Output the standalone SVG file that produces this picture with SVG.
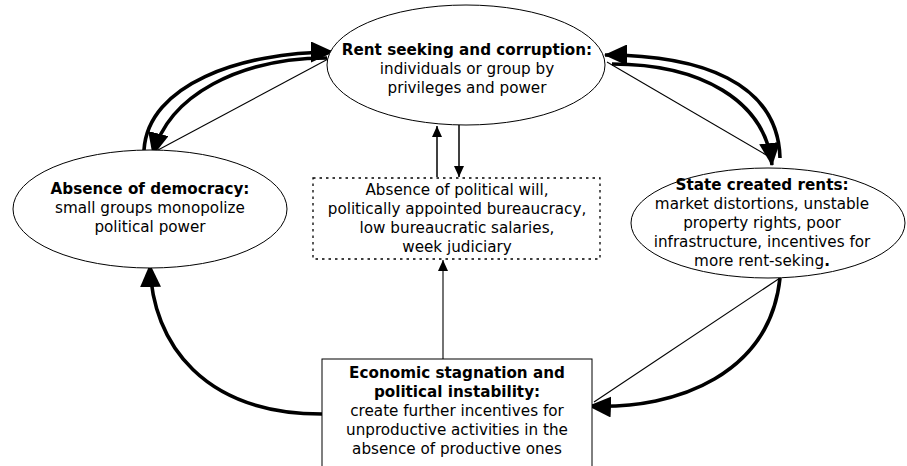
<svg xmlns="http://www.w3.org/2000/svg" width="907" height="466" viewBox="0 0 907 466">
<defs>
<style>
text{font-family:"DejaVu Sans","Verdana",sans-serif;font-size:15.2px;fill:#000;text-anchor:middle}
.b{font-weight:bold}
.shape{fill:#fff;stroke:#000;stroke-width:1}
.dot{fill:#fff;stroke:#000;stroke-width:1.3;stroke-dasharray:2.5 4}
.thick{fill:none;stroke:#000;stroke-width:3.6}
.thin{fill:none;stroke:#000;stroke-width:1.1}
.med{fill:none;stroke:#000;stroke-width:1.5}
</style>
<marker id="big" markerUnits="userSpaceOnUse" markerWidth="23" markerHeight="21" refX="22" refY="10.5" orient="auto">
<path d="M0,0 L23,10.5 L0,21 Z" fill="#000"/>
</marker>
<marker id="small" markerUnits="userSpaceOnUse" markerWidth="11" markerHeight="10" refX="11" refY="5" orient="auto">
<path d="M0,0 L11,5 L0,10 Z" fill="#000"/>
</marker>
</defs>

<g id="connectors">
<path class="thick" d="M144,150 C148,85 240,52 333,52" marker-end="url(#big)"/>
<path class="thick" d="M327,58 C240,58 168,95 153,155" marker-end="url(#big)"/>
<path class="thin" d="M330,58 L158,150"/>
<path class="thick" d="M780,158 C778,82 700,55 605,55" marker-end="url(#big)"/>
<path class="thick" d="M612,64 C700,64 765,100 772,165" marker-end="url(#big)"/>
<path class="thin" d="M607,62 L768,156"/>
<path class="thick" d="M780,278 C770,372 680,410 589,406" marker-end="url(#big)"/>
<path class="thin" d="M780,278 L594,402"/>
<path class="thick" d="M322,414 C205,414 152,345 150,265" marker-end="url(#big)"/>
<path class="thin" d="M443,359 L443,260" marker-end="url(#small)"/>
<path class="med" d="M437,177 L437,126" marker-end="url(#small)"/>
<path class="med" d="M459,125 L459,177" marker-end="url(#small)"/>
</g>

<g id="rent-seeking">
<ellipse class="shape" cx="466" cy="65" rx="139" ry="60"/>
<text class="b" x="467" y="55">Rent seeking and corruption:</text>
<text x="467" y="74">individuals or group by</text>
<text x="467" y="93">privileges and power</text>
</g>

<g id="absence-democracy">
<ellipse class="shape" cx="150" cy="209" rx="137" ry="59"/>
<text class="b" x="150" y="194">Absence of democracy:</text>
<text x="150" y="213">small groups monopolize</text>
<text x="150" y="232">political power</text>
</g>

<g id="state-rents">
<ellipse class="shape" cx="768" cy="223" rx="137" ry="55"/>
<text class="b" x="762" y="190">State created rents:</text>
<text x="762" y="209">market distortions, unstable</text>
<text x="762" y="228">property rights, poor</text>
<text x="762" y="247">infrastructure, incentives for</text>
<text x="762" y="266">more rent-seking<tspan class="b">.</tspan></text>
</g>

<g id="political-will">
<rect class="dot" x="313" y="178" width="287" height="81"/>
<text x="457" y="195">Absence of political will,</text>
<text x="457" y="214">politically appointed bureaucracy,</text>
<text x="457" y="233">low bureaucratic salaries,</text>
<text x="457" y="252">week judiciary</text>
</g>

<g id="stagnation">
<rect class="shape" x="322" y="359" width="270" height="130"/>
<text class="b" x="457" y="378">Economic stagnation and</text>
<text class="b" x="457" y="397">political instability:</text>
<text x="457" y="416">create further incentives for</text>
<text x="457" y="435">unproductive activities in the</text>
<text x="457" y="454">absence of productive ones</text>
</g>
</svg>
